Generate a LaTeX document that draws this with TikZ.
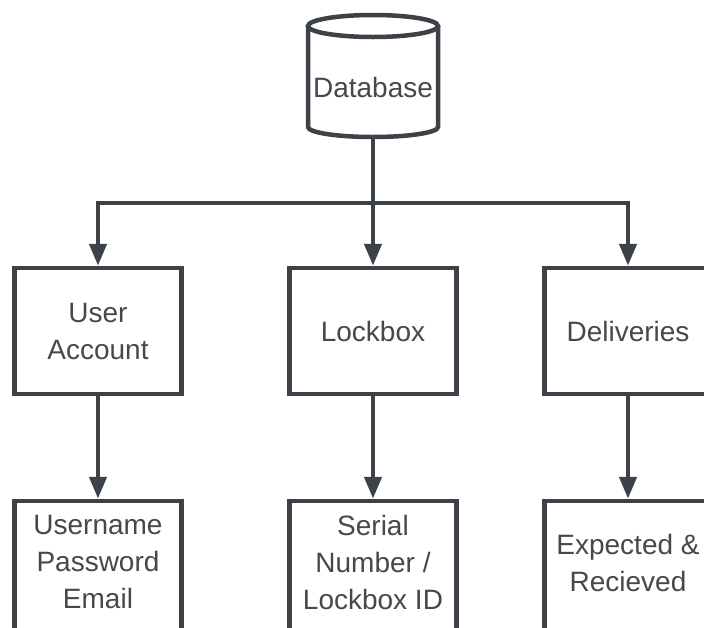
\documentclass[tikz,border=0pt]{standalone}
\usepackage{fontspec}
\setmainfont{Liberation Sans}
\usetikzlibrary{arrows.meta,shadows}
\definecolor{ln}{HTML}{3D4148}
\definecolor{tx}{HTML}{45484D}
\begin{document}
\begin{tikzpicture}[x=1pt,y=-1pt,
  boxnode/.style={draw=ln,line width=4.5pt,fill=white,minimum width=167pt,minimum height=126pt,
    inner sep=0pt,align=center,font=\fontsize{28}{37}\selectfont,text=tx,
    drop shadow={opacity=0.12,shadow xshift=-1pt,shadow yshift=-2pt}},
  lowbox/.style={boxnode,minimum height=132pt},
  lbl/.style={inner sep=0pt,align=center,font=\fontsize{28}{37}\selectfont,text=tx},
  arr/.style={draw=ln,line width=4.5pt,-{Triangle[length=22pt,width=17pt]}},
  dbline/.style={draw=ln,line width=4.5pt,fill=white}]
\useasboundingbox (0,0) rectangle (704,627);
\clip (0,0) rectangle (704,627);
\fill[white] (0,0) rectangle (704,627);
% database cylinder
\filldraw[dbline] (308,26) -- (308,127) arc[start angle=180,end angle=360,x radius=65,y radius=-10] -- (438,26);
\filldraw[dbline] (373,26) ellipse[x radius=65,y radius=11];
\node[lbl] (db) at (373,87) {Database};
\coordinate (dbb) at (373,137);
% boxes
\node[boxnode] (ua) at (98,331) {User\\Account};
\node[boxnode] (lb) at (373,331) {Lockbox};
\node[boxnode] (dl) at (628,331) {Deliveries};
\node[lowbox] (ua2) at (98,567) {};
\node[lowbox] (lb2) at (373,567) {};
\node[lowbox] (dl2) at (628,567) {};
\node[lbl] (ua2t) at (98,562) {Username\\Password\\Email};
\node[lbl] (lb2t) at (373,562) {Serial\\Number /\\Lockbox ID};
\node[lbl] (dl2t) at (628,563) {Expected \&\\Recieved};
% connectors
\draw[arr] (dbb) -- ++(0,66) -| (ua.north);
\draw[arr] (dbb) -- ++(0,66) -| (dl.north);
\draw[arr] (dbb) -- (lb.north);
\draw[arr] (ua.south) -- (ua2.north);
\draw[arr] (lb.south) -- (lb2.north);
\draw[arr] (dl.south) -- (dl2.north);
\end{tikzpicture}
\end{document}
